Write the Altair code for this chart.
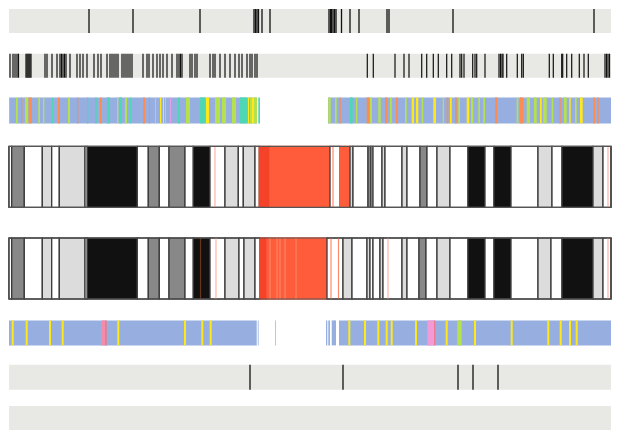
import altair as alt
import pandas as pd

# ---------------- data (positions in kb along the viewed region) ----------------
REGION = [9, 611]   # visible window

track1_ticks = [89, 133, 200, 254, 255.5, 257, 258.5, 262, 270, 329, 330.5, 331.5, 333,
                334.5, 336, 341.5, 350, 359, 387, 389, 453, 594]

track2_ticks = [7, 8.5, 10, 13, 15, 17, 18.5, 26, 27, 28, 29, 30, 31, 45, 47, 52, 57, 60,
                61.5, 63, 64.5, 66, 70, 77, 80, 83, 87, 94, 98, 101, 107, 110, 112, 114,
                116, 118, 122, 124, 126, 128, 130, 132, 143, 147, 149, 153, 157, 160, 163,
                167, 172, 177, 179, 180.5, 182, 190, 192, 195, 197, 210, 213, 215, 220,
                225, 230, 235, 239, 242, 247, 250, 252, 255, 257,
                367.3, 373.3, 395, 404, 409, 421.7, 426.7, 433.3, 438.3, 446.7, 451.7, 460,
                461.7, 464, 472.7, 475, 476.7, 485, 499, 500.5, 502, 503, 506.7, 517.3,
                521.7, 523.3, 549.3, 553.3, 561.7, 562.7, 566.7, 571.7, 579.3, 584, 588.3,
                605, 606.5, 608, 609.5, 611, 616.7]

track7_ticks = [250, 343, 458, 473, 498]

# chromatin-state track: base segments and coloured stripes (start, end, state)
track3_base = [(0, 257, "Quiescent"), (328, 620, "Quiescent")]
track3_stripes = [
    (0, 2.7, "Enhancer"), (2.7, 4, "Weak"), (4, 9.3, "Enhancer"), (16, 17.7, "Weak"),
    (21, 22.3, "Promoter"), (25, 28.3, "Weak"), (28.7, 31.7, "Promoter"), (38.3, 40, "Weak"),
    (43, 44.3, "Weak"), (52, 53, "Transcribed"), (58, 59.7, "Promoter"), (68, 70, "Weak"),
    (77, 78.3, "Promoter"), (87, 88.3, "Transcribed"), (95, 96.7, "Transcribed"),
    (100, 101.7, "Promoter"), (107, 110, "Transcribed"), (117, 118.3, "Weak"),
    (119, 122, "Transcribed"), (125, 127, "Weak"), (130, 131, "Transcribed"),
    (143, 145, "Promoter"), (149, 150, "Promoter"), (155, 156, "Weak"),
    (160, 161.3, "Enhancer"), (163, 164, "Enhancer"), (165, 166, "Weak"),
    (170, 171, "Poised"), (178, 180, "Transcribed"), (186, 190, "Weak"),
    (200, 205, "Transcribed"), (206, 209, "Enhancer"), (215, 220, "Weak"),
    (222, 226, "Weak"), (232, 236, "Weak"), (240, 247, "Transcribed"),
    (248, 249, "Enhancer"), (250, 252, "Weak"), (252, 254, "Enhancer"),
    (254, 257, "Weak"), (258.3, 260, "Transcribed"),
    (328.3, 330.7, "Weak"), (335, 336.7, "Weak"), (339.3, 340.7, "Promoter"),
    (350, 352.7, "Transcribed"), (356, 357.3, "Weak"), (366.7, 369.3, "Promoter"),
    (370, 372, "Weak"), (378.3, 380.7, "Weak"), (385, 387.3, "Promoter"),
    (390, 391.7, "Weak"), (396, 397.7, "Promoter"), (405, 406.7, "Weak"),
    (411.7, 414, "Enhancer"), (416, 418.3, "Enhancer"), (421.7, 423.3, "Weak"),
    (433.3, 436, "Enhancer"), (442.7, 444, "Weak"), (446.7, 448.3, "Promoter"),
    (450, 451.7, "Enhancer"), (455, 456.7, "Promoter"), (458.3, 460, "Weak"),
    (466.7, 469.3, "Enhancer"), (471, 473.3, "Weak"), (478.3, 480, "Weak"),
    (483.3, 485, "Weak"), (495, 497.3, "Promoter"), (516.7, 518.3, "Weak"),
    (520, 523.3, "Promoter"), (526.7, 530, "Weak"), (534, 536.7, "Weak"),
    (540, 541.7, "Enhancer"), (543.3, 546.7, "Weak"), (551.7, 553.3, "Weak"),
    (559.3, 560.7, "Promoter"), (564, 566.7, "Weak"), (569.3, 570.7, "Enhancer"),
    (575, 576.7, "Weak"), (580, 582.7, "Enhancer"), (593.3, 595, "Promoter"),
    (597.3, 598.7, "Promoter"), (611.7, 620, "Weak"),
]

# cytoband ideograms (start, end, stain)
ideo_a = [
    (0, 3.3, "gpos25"), (3.3, 11.7, "gneg"), (11.7, 24.3, "gpos50"), (24.3, 42.3, "gneg"),
    (42.3, 51.7, "gpos25"), (51.7, 59.3, "gneg"), (59.3, 85, "gpos25"), (85, 87.3, "gneg"),
    (87.3, 137.3, "gpos100"), (137.3, 148.3, "gneg"), (148.3, 159.3, "gpos50"),
    (159.3, 169, "gneg"), (169, 185, "gpos50"), (185, 193.3, "gneg"),
    (193.3, 210, "gpos100"), (210, 225, "gneg"), (225, 238.3, "gpos25"),
    (238.3, 243.3, "gneg"), (243.3, 255, "gpos25"), (255, 259.3, "gneg"),
    (259.3, 270, "acen_q"), (270, 330, "acen"), (330, 340, "gneg"), (340, 350, "acen"),
    (350, 353, "gpos25"), (353, 368, "gneg"), (368, 371, "gpos50"), (371, 373, "gneg"),
    (373, 382, "gneg"), (382, 385, "gpos25"), (385, 402, "gneg"), (402, 407, "gpos25"),
    (407, 420, "gneg"), (420, 427, "gpos50"), (427, 437, "gneg"), (437, 450, "gpos25"),
    (450, 468, "gneg"), (468, 485, "gpos100"), (485, 494, "gneg"), (494, 511, "gpos100"),
    (511, 538, "gneg"), (538, 552, "gpos25"), (552, 562, "gneg"), (562, 593, "gpos100"),
    (593, 603, "gpos25"), (603, 615, "gneg"), (615, 620, "gpos25"),
]
ideo_a_marks = [(215, "pink"), (333, "salmon"), (608, "pink")]

ideo_b = [
    (0, 3.3, "gpos25"), (3.3, 11.7, "gneg"), (11.7, 24.3, "gpos50"), (24.3, 42.3, "gneg"),
    (42.3, 51.7, "gpos25"), (51.7, 59.3, "gneg"), (59.3, 85, "gpos25"), (85, 87.3, "gneg"),
    (87.3, 137.3, "gpos100"), (137.3, 148.3, "gneg"), (148.3, 159.3, "gpos50"),
    (159.3, 169, "gneg"), (169, 185, "gpos50"), (185, 193.3, "gneg"),
    (193.3, 210, "gpos100"), (210, 225, "gneg"), (225, 239, "gpos25"),
    (239, 244, "gneg"), (244, 255, "gpos25"), (255, 260, "gneg"),
    (260, 267, "acen_q"), (267, 327, "acen"), (327, 343, "gneg"), (343, 352, "gpos25"),
    (352, 367, "gneg"), (367, 370, "gpos25"), (370, 373, "gneg"), (373, 380, "gneg"),
    (380, 383, "gpos25"), (383, 402, "gneg"), (402, 407, "gpos25"), (407, 419, "gneg"),
    (419, 426, "gpos50"), (426, 437, "gneg"), (437, 450, "gpos25"), (450, 468, "gneg"),
    (468, 485, "gpos100"), (485, 494, "gneg"), (494, 511, "gpos100"), (511, 538, "gneg"),
    (538, 551, "gpos25"), (551, 562, "gneg"), (562, 593, "gpos100"), (593, 603, "gpos25"),
    (603, 615, "gneg"), (615, 620, "gpos50"),
]
ideo_b_marks = [(200.5, "brown"), (216, "pink"), (270, "lightred"), (277, "lightred"),
                (280, "lightred"), (285, "lightred"), (296, "lightred"), (331, "salmon"),
                (338.5, "salmon"), (388, "pink"), (608, "pink")]

# annotation track: base segments and stripes
track6_base = [(0, 256.7), (257.8, 258.6), (275.3, 276), (326, 327.3), (328.3, 330),
               (331.7, 336), (339, 620)]
track6_lines = [12.7, 26.7, 50, 62.7, 118.3, 185, 202.3, 210.7, 349.3, 365, 378.3, 386.7,
                391.7, 416, 446.7, 475, 511.7, 548.3, 560.7, 570, 576.7]
track6_blocks = [(101.7, 105, "Salmon"), (105, 106.7, "Rose"), (427.3, 434, "Orchid"),
                 (434, 435.3, "Rose"), (457.3, 461.7, "Lime")]

full_span = [(0, 620)]

# ---------------- styling ----------------
GRAY = "#e8e8e4"
PALETTE = {
    "Quiescent": "#96afe0", "Enhancer": "#ffe81a", "Promoter": "#fc8c52",
    "Weak": "#b6e14e", "Transcribed": "#4fd6b4", "Poised": "#dfa2e6",
    "gneg": "#ffffff", "gpos25": "#dcdcdc", "gpos50": "#888888", "gpos100": "#111111",
    "acen": "#ff5c3c", "acen_q": "#f5432a",
    "pink": "#ffb5a5", "salmon": "#ff8a6c", "brown": "#6a3418", "lightred": "#ff8564",
    "Salmon": "#f48ca8", "Rose": "#f07890", "Orchid": "#f29ad6", "Lime": "#b6e14e",
    "Yellow": "#ffe81a",
}
PAL_SCALE = alt.Scale(domain=list(PALETTE), range=list(PALETTE.values()))
STROKES = {k: "#3a3a3a" for k in PALETTE}
STROKES["acen"] = "#ff5c3c"
STROKES["acen_q"] = "#f5432a"
STROKE_SCALE = alt.Scale(domain=list(STROKES), range=list(STROKES.values()))

W = REGION[1] - REGION[0]
XS = alt.Scale(domain=REGION, nice=False, zero=False, clamp=True)
IN_VIEW = (alt.datum.pos > REGION[0]) & (alt.datum.pos < REGION[1])


def xenc(field):
    return alt.X(f"{field}:Q", scale=XS, axis=None)


def seg_df(rows, cols=("start", "end", "state")):
    return pd.DataFrame(rows, columns=list(cols[: len(rows[0])]))


def gray_band():
    return alt.Chart(seg_df(full_span, ("start", "end"))).mark_rect(color=GRAY).encode(
        x=xenc("start"), x2="end")


def tick_layer(ticks, width):
    return alt.Chart(pd.DataFrame({"pos": ticks})).transform_filter(IN_VIEW).mark_rule(
        color="#101010", strokeWidth=width).encode(x=xenc("pos"))


def tick_track(ticks, h, width=1.2):
    return alt.layer(gray_band(), tick_layer(ticks, width)).properties(width=W, height=h)


def ideogram(bands, marks, h):
    bdf = seg_df(bands, ("start", "end", "stain"))
    mdf = pd.DataFrame(marks, columns=["pos", "kind"])
    rects = alt.Chart(bdf).mark_rect(strokeWidth=1.3).encode(
        x=xenc("start"), x2="end",
        fill=alt.Fill("stain:N", scale=PAL_SCALE, legend=None),
        stroke=alt.Stroke("stain:N", scale=STROKE_SCALE, legend=None))
    lines = alt.Chart(mdf).transform_filter(IN_VIEW).mark_rule(strokeWidth=1.2).encode(
        x=xenc("pos"), color=alt.Color("kind:N", scale=PAL_SCALE, legend=None))
    outline = alt.Chart(seg_df(full_span, ("start", "end"))).mark_rect(
        fillOpacity=0, stroke="#555555", strokeWidth=1.2).encode(x=xenc("start"), x2="end")
    return alt.layer(rects, lines, outline).properties(width=W, height=h)


# track 3
t3 = alt.layer(
    alt.Chart(seg_df(track3_base)).mark_rect().encode(
        x=xenc("start"), x2="end", fill=alt.Fill("state:N", scale=PAL_SCALE, legend=None)),
    alt.Chart(seg_df(track3_stripes)).mark_rect().encode(
        x=xenc("start"), x2="end", fill=alt.Fill("state:N", scale=PAL_SCALE, legend=None)),
).properties(width=W, height=26)

# track 6
t6 = alt.layer(
    alt.Chart(seg_df(track6_base, ("start", "end"))).mark_rect(color=PALETTE["Quiescent"]).encode(
        x=xenc("start"), x2="end"),
    alt.Chart(pd.DataFrame({"pos": track6_lines})).transform_filter(IN_VIEW).mark_rule(
        color=PALETTE["Yellow"], strokeWidth=2).encode(x=xenc("pos")),
    alt.Chart(seg_df(track6_blocks)).mark_rect().encode(
        x=xenc("start"), x2="end", fill=alt.Fill("state:N", scale=PAL_SCALE, legend=None)),
).properties(width=W, height=25)

t1 = tick_track(track1_ticks, 24, 1.3)
t2 = tick_track(track2_ticks, 24, 1.2)
t4 = ideogram(ideo_a, ideo_a_marks, 61)
t5 = ideogram(ideo_b, ideo_b_marks, 61)
t7 = tick_track(track7_ticks, 25, 1.3)
t8 = alt.layer(gray_band()).properties(width=W, height=24)

g4 = alt.vconcat(t7, t8, spacing=15.3)
g3 = alt.vconcat(t6, g4, spacing=17.4)
g2 = alt.vconcat(t5, g3, spacing=19.4)
g1 = alt.vconcat(t4, g2, spacing=28.7)
top = alt.vconcat(t1, t2, t3, spacing=18.7)

chart = alt.vconcat(top, g1, spacing=21.3).properties(padding=0).configure_view(
    strokeWidth=0)

chart.save("out.html", embed_options={"renderer": "svg", "actions": False})
